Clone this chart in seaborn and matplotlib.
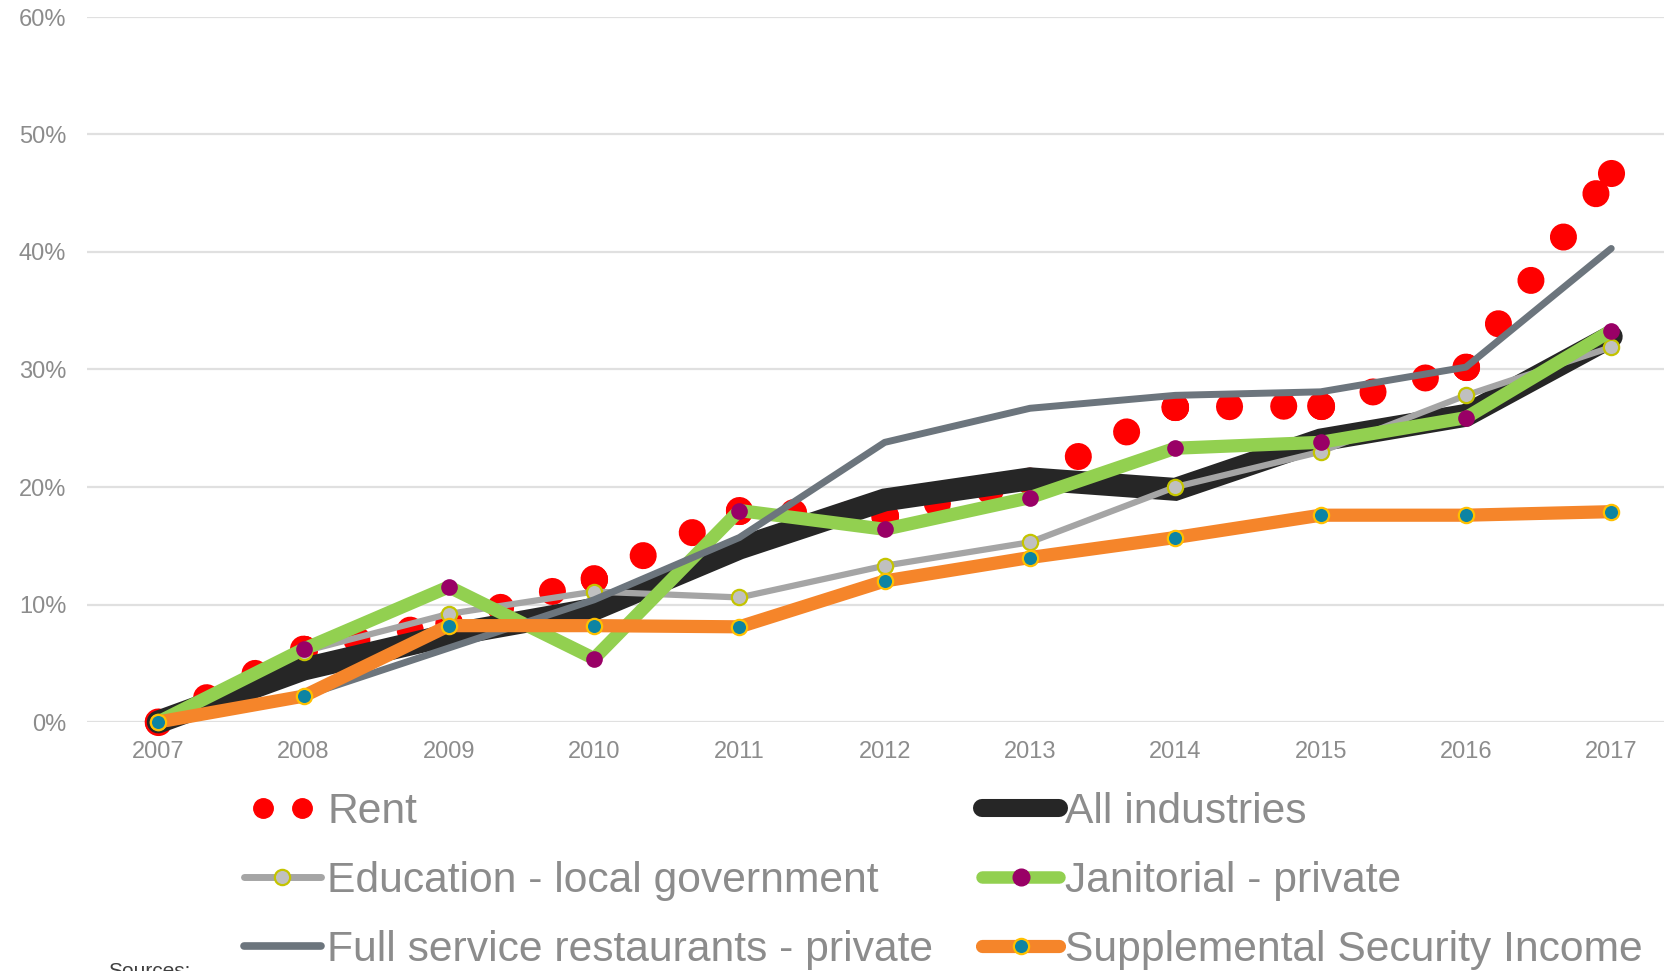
import pandas as pd
import matplotlib
matplotlib.use("Agg")
import matplotlib.pyplot as plt
import seaborn as sns
from matplotlib.lines import Line2D
from matplotlib.legend_handler import HandlerLine2D
from matplotlib.ticker import PercentFormatter

# cumulative change since 2007, in %
years = list(range(2007, 2018))
rent = [0.0, 6.2, 8.4, 12.2, 18.0, 17.5, 20.5, 26.8, 26.9, 30.2, 46.7]
all_industries = [0.0, 4.5, 7.4, 9.6, 14.8, 18.9, 20.7, 19.8, 24.0, 26.1, 32.8]
education = [0.0, 6.0, 9.2, 11.1, 10.6, 13.3, 15.3, 20.0, 23.0, 27.8, 31.9]
janitorial = [0.0, 6.2, 11.5, 5.4, 18.0, 16.4, 19.1, 23.3, 23.8, 25.9, 33.3]
restaurants = [0.0, 2.2, 6.3, 10.4, 15.7, 23.8, 26.7, 27.8, 28.1, 30.2, 40.3]
ssi = [0.0, 2.2, 8.2, 8.2, 8.1, 12.0, 14.0, 15.7, 17.6, 17.6, 17.9]

labels = ["Rent", "Education - local government", "Full service restaurants - private",
          "All industries", "Janitorial - private", "Supplemental Security Income"]

sns.set_style("white")
plt.rcParams["font.family"] = ["Liberation Sans", "DejaVu Sans"]
txt_gray = "#8c8c8c"

fig = plt.figure(figsize=(16.65, 9.71), dpi=100)
ax = fig.add_axes([87 / 1665, 249 / 971, (1665 - 87) / 1665, (722 - 17) / 971])

# rent: dotted line, pattern restarts on each yearly segment
seg = []
for i in range(len(years) - 1):
    seg.append({"year": years[i], "value": rent[i], "seg": i})
    seg.append({"year": years[i + 1], "value": rent[i + 1], "seg": i})
rent_seg = pd.DataFrame(seg)
sns.lineplot(data=rent_seg, x="year", y="value", units="seg", estimator=None, ax=ax,
             color="#ff0000", lw=19.5, linestyle=(0, (0.001, 2.0)), dash_capstyle="round",
             marker="o", markersize=19.5, markeredgewidth=0, legend=False, clip_on=False)

df = pd.DataFrame({"year": years, "all": all_industries, "edu": education,
                   "jan": janitorial, "rest": restaurants, "ssi": ssi})

sns.lineplot(data=df, x="year", y="all", ax=ax, color="#262626", lw=16.5,
             solid_capstyle="round", solid_joinstyle="miter", clip_on=False)
sns.lineplot(data=df, x="year", y="edu", ax=ax, color="#a5a5a5", lw=4.5,
             marker="o", markersize=11, markerfacecolor="#c0c0c0",
             markeredgecolor="#c4c400", markeredgewidth=1.6, clip_on=False)
sns.lineplot(data=df, x="year", y="jan", ax=ax, color="#92d050", lw=9.5,
             marker="o", markersize=12, markerfacecolor="#990066",
             markeredgecolor="#990066", markeredgewidth=0, clip_on=False)
sns.lineplot(data=df, x="year", y="rest", ax=ax, color="#6c757d", lw=5,
             solid_capstyle="round", clip_on=False)
sns.lineplot(data=df, x="year", y="ssi", ax=ax, color="#f5852a", lw=9.5,
             marker="o", markersize=11, markerfacecolor="#0d84a3",
             markeredgecolor="#ffc000", markeredgewidth=1.6, clip_on=False)

ax.set_xlim(2006.51, 2017.37)
ax.set_ylim(0, 60)
ax.set_xticks(years)
ax.set_xticklabels([str(y) for y in years])
ax.set_yticks(range(0, 61, 10))
ax.yaxis.set_major_formatter(PercentFormatter(100, decimals=0))
ax.tick_params(axis="both", length=0, labelsize=17, labelcolor=txt_gray)
ax.tick_params(axis="y", pad=15)
ax.tick_params(axis="x", pad=14)
ax.set_xlabel("")
ax.set_ylabel("")
ax.grid(axis="y", color="#e0e0e0", lw=1.6)
ax.grid(axis="x", visible=False)
ax.set_axisbelow(True)
for s in ax.spines.values():
    s.set_visible(False)

h_rent = Line2D([], [], ls="none", marker="o", color="#ff0000", markersize=14)
h_edu = Line2D([], [], color="#a5a5a5", lw=5, solid_capstyle="round", marker="o",
               markersize=11, markerfacecolor="#c0c0c0", markeredgecolor="#c4c400",
               markeredgewidth=1.6)
h_rest = Line2D([], [], color="#6c757d", lw=5.5, solid_capstyle="round")
h_all = Line2D([], [], color="#262626", lw=13, solid_capstyle="round")
h_jan = Line2D([], [], color="#92d050", lw=9, solid_capstyle="round", marker="o",
               markersize=12, markerfacecolor="#990066", markeredgecolor="#990066")
h_ssi = Line2D([], [], color="#f5852a", lw=9.5, solid_capstyle="round", marker="o",
               markersize=11, markerfacecolor="#0d84a3", markeredgecolor="#ffc000",
               markeredgewidth=1.6)

leg = fig.legend([h_rent, h_edu, h_rest, h_all, h_jan, h_ssi], labels, ncol=2,
                 loc="upper left", bbox_to_anchor=(244 / 1665, 1 - 792 / 971),
                 frameon=False, fontsize=30.7, handlelength=1.8, handletextpad=0.15,
                 columnspacing=1.15, labelspacing=0.68, borderpad=0, borderaxespad=0,
                 handler_map={h_rent: HandlerLine2D(numpoints=2, marker_pad=0.45)})
for t in leg.get_texts():
    t.set_color(txt_gray)

fig.text(108 / 1665, 1 - 962 / 971, "Sources:", va="top", ha="left",
         fontsize=15, color="#404040")

fig.savefig("out.png", dpi=100)
